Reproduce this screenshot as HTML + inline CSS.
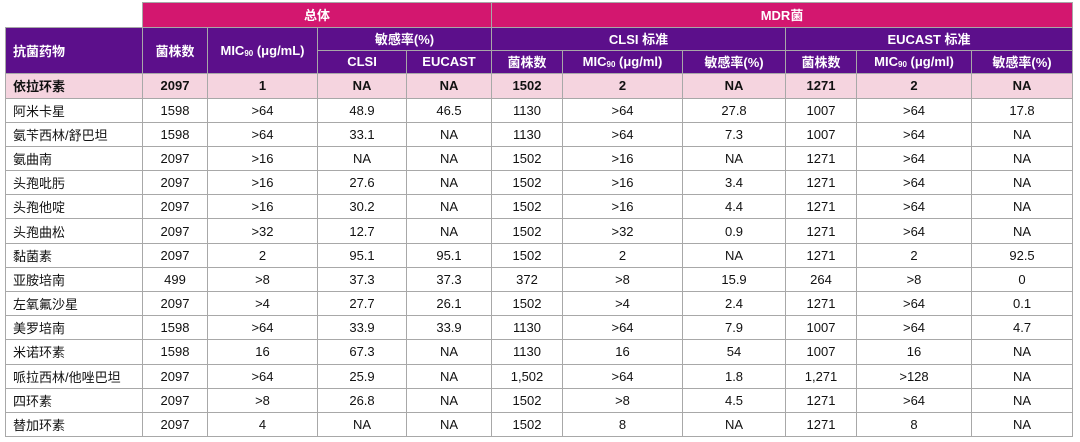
<!DOCTYPE html>
<html><head><meta charset="utf-8"><style>
body{margin:0;background:#fff;width:1080px;height:442px;overflow:hidden;font-family:"Liberation Sans","Noto Sans CJK SC",sans-serif;}
table{position:absolute;left:5px;top:2px;border-collapse:collapse;table-layout:fixed;width:1067px;font-size:13px;color:#111;}
td{border:1px solid #a8a8a8;text-align:center;padding:0;height:23.2px;white-space:nowrap;overflow:hidden;}
td.l{text-align:left;padding-left:7px;}
.p{background:#d3176f;color:#fff;font-weight:bold;}
.v{background:#5c0f8b;color:#fff;font-weight:bold;}
.h td{background:#f5d4df;font-weight:bold;}
.blank{border:none;background:#fff;}
sub{font-size:8px;vertical-align:-1px;}
tr.r2 td{height:22px;}
</style></head><body>
<table>
<colgroup><col style="width:137px"><col style="width:65px"><col style="width:110px"><col style="width:89px"><col style="width:85px"><col style="width:71px"><col style="width:120px"><col style="width:103px"><col style="width:71px"><col style="width:115px"><col style="width:101px"></colgroup>
<tr><td class="blank" style="border-bottom:1px solid #a8a8a8;height:24px"></td><td class="p" colspan="4">总体</td><td class="p" colspan="6">MDR菌</td></tr>
<tr class="r2"><td class="v l" rowspan="2">抗菌药物</td><td class="v" rowspan="2">菌株数</td><td class="v" rowspan="2">MIC<sub>90</sub> (μg/mL)</td><td class="v" colspan="2">敏感率(%)</td><td class="v" colspan="3">CLSI 标准</td><td class="v" colspan="3">EUCAST 标准</td></tr>
<tr class="r2"><td class="v">CLSI</td><td class="v">EUCAST</td><td class="v">菌株数</td><td class="v">MIC<sub>90</sub> (μg/ml)</td><td class="v">敏感率(%)</td><td class="v">菌株数</td><td class="v">MIC<sub>90</sub> (μg/ml)</td><td class="v">敏感率(%)</td></tr>
<tr class="h"><td class="l" style="height:24px">依拉环素</td><td>2097</td><td>1</td><td>NA</td><td>NA</td><td>1502</td><td>2</td><td>NA</td><td>1271</td><td>2</td><td>NA</td></tr>
<tr><td class="l">阿米卡星</td><td>1598</td><td>&gt;64</td><td>48.9</td><td>46.5</td><td>1130</td><td>&gt;64</td><td>27.8</td><td>1007</td><td>&gt;64</td><td>17.8</td></tr>
<tr><td class="l">氨苄西林/舒巴坦</td><td>1598</td><td>&gt;64</td><td>33.1</td><td>NA</td><td>1130</td><td>&gt;64</td><td>7.3</td><td>1007</td><td>&gt;64</td><td>NA</td></tr>
<tr><td class="l">氨曲南</td><td>2097</td><td>&gt;16</td><td>NA</td><td>NA</td><td>1502</td><td>&gt;16</td><td>NA</td><td>1271</td><td>&gt;64</td><td>NA</td></tr>
<tr><td class="l">头孢吡肟</td><td>2097</td><td>&gt;16</td><td>27.6</td><td>NA</td><td>1502</td><td>&gt;16</td><td>3.4</td><td>1271</td><td>&gt;64</td><td>NA</td></tr>
<tr><td class="l">头孢他啶</td><td>2097</td><td>&gt;16</td><td>30.2</td><td>NA</td><td>1502</td><td>&gt;16</td><td>4.4</td><td>1271</td><td>&gt;64</td><td>NA</td></tr>
<tr><td class="l">头孢曲松</td><td>2097</td><td>&gt;32</td><td>12.7</td><td>NA</td><td>1502</td><td>&gt;32</td><td>0.9</td><td>1271</td><td>&gt;64</td><td>NA</td></tr>
<tr><td class="l">黏菌素</td><td>2097</td><td>2</td><td>95.1</td><td>95.1</td><td>1502</td><td>2</td><td>NA</td><td>1271</td><td>2</td><td>92.5</td></tr>
<tr><td class="l">亚胺培南</td><td>499</td><td>&gt;8</td><td>37.3</td><td>37.3</td><td>372</td><td>&gt;8</td><td>15.9</td><td>264</td><td>&gt;8</td><td>0</td></tr>
<tr><td class="l">左氧氟沙星</td><td>2097</td><td>&gt;4</td><td>27.7</td><td>26.1</td><td>1502</td><td>&gt;4</td><td>2.4</td><td>1271</td><td>&gt;64</td><td>0.1</td></tr>
<tr><td class="l">美罗培南</td><td>1598</td><td>&gt;64</td><td>33.9</td><td>33.9</td><td>1130</td><td>&gt;64</td><td>7.9</td><td>1007</td><td>&gt;64</td><td>4.7</td></tr>
<tr><td class="l">米诺环素</td><td>1598</td><td>16</td><td>67.3</td><td>NA</td><td>1130</td><td>16</td><td>54</td><td>1007</td><td>16</td><td>NA</td></tr>
<tr><td class="l">哌拉西林/他唑巴坦</td><td>2097</td><td>&gt;64</td><td>25.9</td><td>NA</td><td>1,502</td><td>&gt;64</td><td>1.8</td><td>1,271</td><td>&gt;128</td><td>NA</td></tr>
<tr><td class="l">四环素</td><td>2097</td><td>&gt;8</td><td>26.8</td><td>NA</td><td>1502</td><td>&gt;8</td><td>4.5</td><td>1271</td><td>&gt;64</td><td>NA</td></tr>
<tr><td class="l">替加环素</td><td>2097</td><td>4</td><td>NA</td><td>NA</td><td>1502</td><td>8</td><td>NA</td><td>1271</td><td>8</td><td>NA</td></tr>
</table>
</body></html>
